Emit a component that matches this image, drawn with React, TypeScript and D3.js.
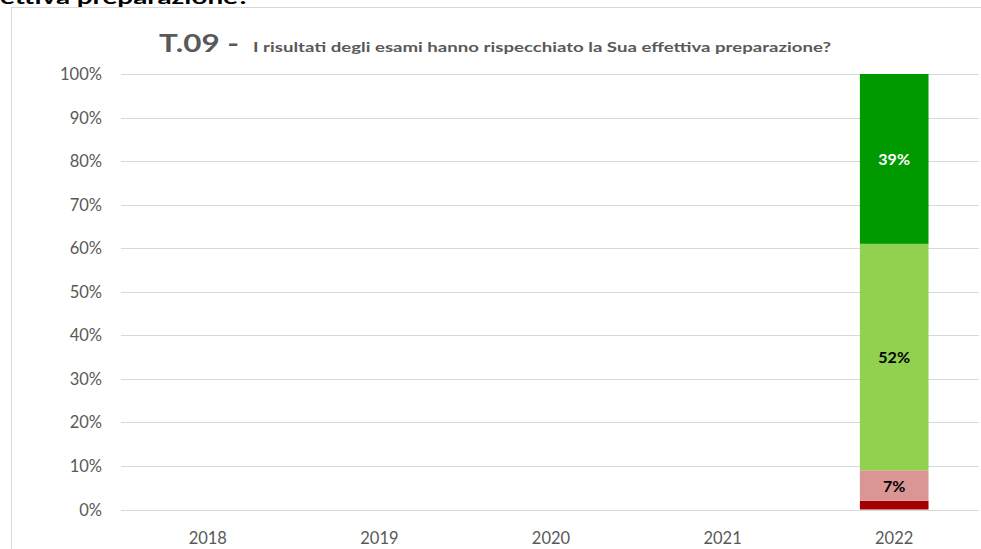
import React from "react";
import * as d3 from "d3";

const years = ["2018", "2019", "2020", "2021", "2022"];
const seriesNames = ["Per niente", "Poco", "Abbastanza", "Molto"];
const seriesColors = ["#A50000", "#DA9694", "#92D050", "#009900"];
const labelColors = ["#000000", "#000000", "#000000", "#FFFFFF"];
const perNiente = [0, 0, 0, 0, 2];
const poco = [0, 0, 0, 0, 7];
const abbastanza = [0, 0, 0, 0, 52];
const molto = [0, 0, 0, 0, 39];
const yTicks = [0, 10, 20, 30, 40, 50, 60, 70, 80, 90, 100];

const W = 981;
const H = 549;
const FONT = "Lato, 'Open Sans', sans-serif";

export default function App() {
  const band = d3.scaleBand<string>().domain(years).range([122, 980]);
  const y = d3.scaleLinear().domain([0, 100]).range([509.5, 74]);

  const rows = years.map((yr, i) => ({
    year: yr,
    s0: perNiente[i],
    s1: poco[i],
    s2: abbastanza[i],
    s3: molto[i],
  }));
  const stack = d3.stack<any>().keys(["s0", "s1", "s2", "s3"]);
  const layers = stack(rows);
  const barW = band.bandwidth() * 0.4;

  return (
    <svg width={W} height={H} style={{ position: "absolute", left: 0, top: 0, background: "#fff" }}>
      <text x={0} y={4} fontFamily={FONT} fontWeight={700} fontSize={19} fill="#000" textLength={250} lengthAdjust="spacingAndGlyphs">
        ettiva preparazione?
      </text>
      <rect x={11.5} y={7.5} width={1000} height={600} fill="#fff" stroke="#D9D9D9" strokeWidth={1} />
      <text x={159} y={52} fontFamily={FONT} fontWeight={700} fontSize={25} fill="#595959" textLength={80} lengthAdjust="spacingAndGlyphs">
        T.09 -
      </text>
      <text x={253} y={52} fontFamily={FONT} fontWeight={700} fontSize={14} fill="#595959" textLength={578} lengthAdjust="spacingAndGlyphs">
        I risultati degli esami hanno rispecchiato la Sua effettiva preparazione?
      </text>
      {yTicks.map((t) => (
        <g key={t}>
          <line x1={121} x2={979} y1={Math.round(y(t)) + 0.5} y2={Math.round(y(t)) + 0.5} stroke="#D9D9D9" strokeWidth={1} />
          <text x={102} y={y(t) + 6} textAnchor="end" fontFamily={FONT} fontSize={16.5} fill="#595959">
            {t}%
          </text>
        </g>
      ))}
      {years.map((yr) => (
        <text key={yr} x={(band(yr) as number) + band.bandwidth() / 2} y={544} textAnchor="middle" fontFamily={FONT} fontSize={16.5} fill="#595959">
          {yr}
        </text>
      ))}
      {layers.map((layer, si) =>
        layer.map((d: any, i: number) => {
          const v = d[1] - d[0];
          if (v <= 0) return null;
          const cx = (band(years[i]) as number) + band.bandwidth() / 2;
          return (
            <g key={si + "-" + i}>
              <rect x={cx - barW / 2} y={y(d[1])} width={barW} height={y(d[0]) - y(d[1])} fill={seriesColors[si]} />
              {v >= 5 && (
                <text x={cx} y={(y(d[0]) + y(d[1])) / 2 + 6} textAnchor="middle" fontFamily={FONT} fontWeight={700} fontSize={16} fill={labelColors[si]}>
                  {v}%
                </text>
              )}
            </g>
          );
        })
      )}
    </svg>
  );
}
